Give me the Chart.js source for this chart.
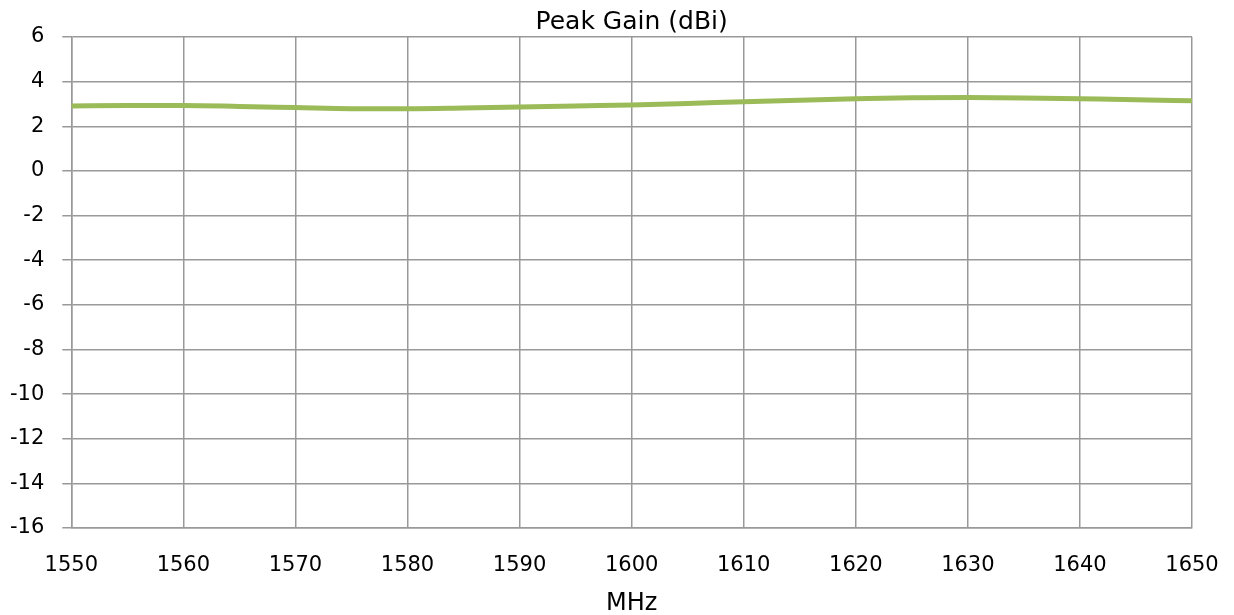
<!DOCTYPE html>
<html>
<head>
<meta charset="utf-8">
<script src="https://cdn.jsdelivr.net/npm/chart.js@4/dist/chart.umd.min.js"></script>
<style>
  html, body { margin: 0; padding: 0; background: #fff; }
  #wrap { width: 1234px; height: 615px; }
</style>
</head>
<body>
<div id="wrap"><canvas id="grafico" width="1234" height="615"></canvas></div>
<script>
// Datos
const frecuencias = [1550, 1555, 1560, 1565, 1570, 1575, 1580, 1585, 1590, 1595, 1600,
                     1605, 1610, 1615, 1620, 1625, 1630, 1635, 1640, 1645, 1650];
const ganancia = [2.91, 2.93, 2.93, 2.89, 2.84, 2.79, 2.79, 2.82, 2.86, 2.91, 2.95,
                  3.02, 3.10, 3.17, 3.23, 3.28, 3.29, 3.27, 3.23, 3.19, 3.14];
const xTicks = [1550, 1560, 1570, 1580, 1590, 1600, 1610, 1620, 1630, 1640, 1650];
const yTicks = [6, 4, 2, 0, -2, -4, -6, -8, -10, -12, -14, -16];

const fuente = "'DejaVu Sans', Verdana, sans-serif";
Chart.defaults.font.family = fuente;
Chart.defaults.font.size = 21;
Chart.defaults.color = "#000";

const puntos = frecuencias.map((f, i) => ({ x: f, y: ganancia[i] }));

new Chart(document.getElementById("grafico").getContext("2d"), {
    type: "line",
    data: {
        datasets: [{
            label: "Peak Gain",
            data: puntos,
            borderColor: "#9bbb59",
            borderWidth: 5,
            pointRadius: 0,
            tension: 0.4,
            cubicInterpolationMode: "monotone"
        }]
    },
    options: {
        responsive: false,
        animation: false,
        layout: { autoPadding: false, padding: { left: -8, right: 42, top: 0, bottom: 0 } },
        plugins: {
            legend: { display: false },
            tooltip: { enabled: false }
        },
        scales: {
            x: {
                type: "linear",
                min: 1550,
                max: 1650,
                afterBuildTicks: axis => { axis.ticks = xTicks.map(v => ({ value: v })); },
                // la etiqueta 1650 sobresale; el margen lo da layout.padding
                afterFit: axis => { axis.paddingLeft = 0; axis.paddingRight = 0; },
                grid: { color: "#999", lineWidth: 1.5, drawTicks: false },
                border: { color: "#999", width: 1.5 },
                ticks: {
                    padding: 25, maxRotation: 0, autoSkip: false,
                    callback: v => String(v)
                },
                title: {
                    display: true,
                    text: "MHz",
                    font: { size: 24 },
                    padding: { top: -14, bottom: -3 }
                }
            },
            // eje superior solo para el título, centrado sobre el área del gráfico
            titulo: {
                type: "linear",
                position: "top",
                min: 1550,
                max: 1650,
                ticks: { display: false },
                grid: { display: false, drawTicks: false },
                border: { display: false },
                title: {
                    display: true,
                    text: "Peak Gain (dBi)",
                    font: { size: 25 },
                    padding: { top: 7, bottom: 0 }
                }
            },
            y: {
                min: -16,
                max: 6,
                afterBuildTicks: axis => { axis.ticks = yTicks.map(v => ({ value: v })); },
                grid: { color: "#999", lineWidth: 1.5, tickLength: 9 },
                border: { color: "#999", width: 1.5 },
                ticks: { padding: 18, autoSkip: false, callback: v => String(v) }
            }
        }
    }
});
</script>
</body>
</html>
